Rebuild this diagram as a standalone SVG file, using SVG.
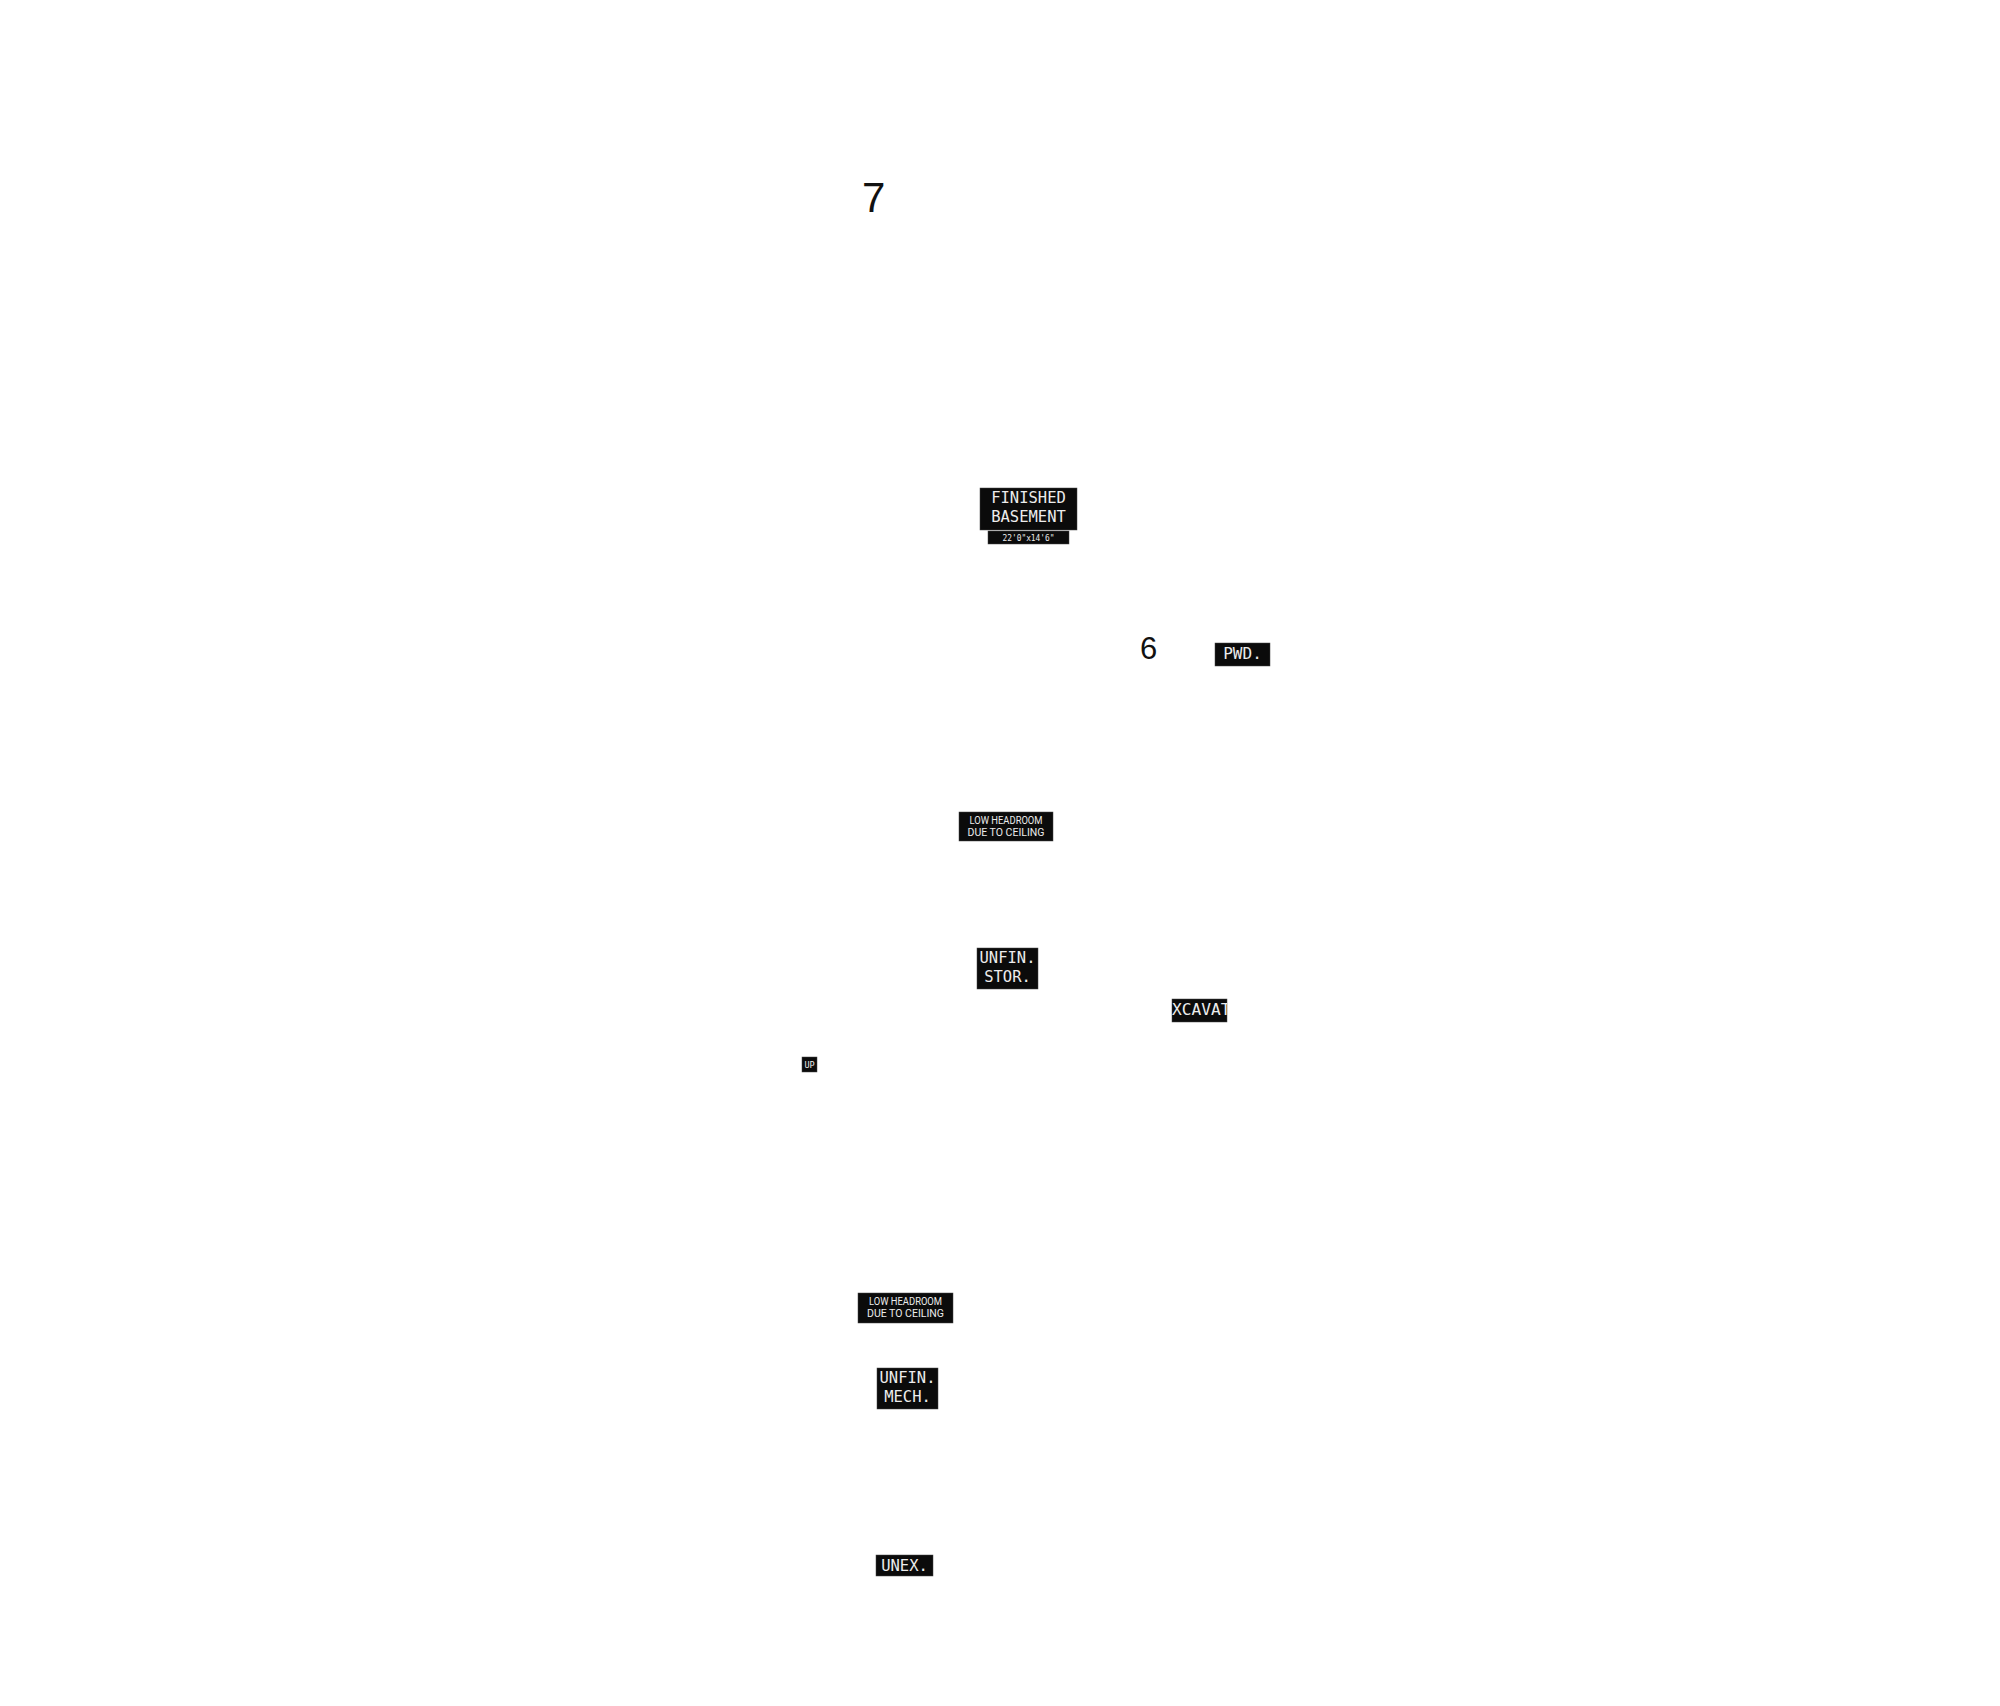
<svg xmlns="http://www.w3.org/2000/svg" width="2000" height="1706" viewBox="0 0 2000 1706">
<style>
.tag{fill:#0b0b0b;stroke:#444;stroke-width:0.5}
.lbl{fill:#ececec;font-family:"DejaVu Sans Mono","Liberation Mono",monospace;text-anchor:middle}
.sm{fill:#ececec;font-family:Roboto,"Liberation Sans",sans-serif;text-anchor:middle;font-size:10px}
.num{fill:#111;font-family:"Liberation Sans",Arial,sans-serif}
</style>
<defs>
<clipPath id="clipX"><rect x="1172" y="999" width="55" height="23"/></clipPath>
</defs>
<rect width="2000" height="1706" fill="#fff"/>
<g id="num7"><text class="num" x="862" y="212" font-size="42">7</text></g>
<g id="num6"><text class="num" x="1140" y="659" font-size="31">6</text></g>
<g id="finished-basement">
<rect class="tag" x="980" y="488" width="97" height="42"/>
<text class="lbl" x="1028.5" y="503" font-size="15.5">FINISHED</text>
<text class="lbl" x="1028.5" y="522" font-size="15.5">BASEMENT</text>
<rect class="tag" x="988" y="531" width="81" height="13"/>
<text class="lbl" x="1028.5" y="541" font-size="8" textLength="52" lengthAdjust="spacingAndGlyphs">22'0"x14'6"</text>
</g>
<g id="pwd">
<rect class="tag" x="1215" y="643" width="55" height="23"/>
<text class="lbl" x="1242.5" y="659" font-size="16">PWD.</text>
</g>
<g id="low-headroom-1">
<rect class="tag" x="959" y="812" width="94" height="29"/>
<text class="sm" x="1006" y="823.5" textLength="73" lengthAdjust="spacingAndGlyphs">LOW HEADROOM</text>
<text class="sm" x="1006" y="836" textLength="77" lengthAdjust="spacingAndGlyphs">DUE TO CEILING</text>
</g>
<g id="unfin-stor">
<rect class="tag" x="977" y="948" width="61" height="41"/>
<text class="lbl" x="1007.5" y="963" font-size="15.5">UNFIN.</text>
<text class="lbl" x="1007.5" y="982" font-size="15.5">STOR.</text>
</g>
<g id="excavat">
<rect class="tag" x="1172" y="999" width="55" height="23"/>
<text class="lbl" x="1172" y="1015" font-size="16.2" style="text-anchor:start" clip-path="url(#clipX)">XCAVAT</text>
</g>
<g id="up">
<rect class="tag" x="802" y="1057" width="15" height="15"/>
<text class="lbl" x="809.5" y="1068" font-size="8.5">UP</text>
</g>
<g id="low-headroom-2">
<rect class="tag" x="858" y="1293" width="95" height="30"/>
<text class="sm" x="905.5" y="1305" textLength="73" lengthAdjust="spacingAndGlyphs">LOW HEADROOM</text>
<text class="sm" x="905.5" y="1317" textLength="77" lengthAdjust="spacingAndGlyphs">DUE TO CEILING</text>
</g>
<g id="unfin-mech">
<rect class="tag" x="877" y="1368" width="61" height="41"/>
<text class="lbl" x="907.5" y="1383" font-size="15.5">UNFIN.</text>
<text class="lbl" x="907.5" y="1402" font-size="15.5">MECH.</text>
</g>
<g id="unex">
<rect class="tag" x="876" y="1555" width="57" height="21"/>
<text class="lbl" x="904.5" y="1571" font-size="15.5">UNEX.</text>
</g>
<g id="connectors"></g>
</svg>
